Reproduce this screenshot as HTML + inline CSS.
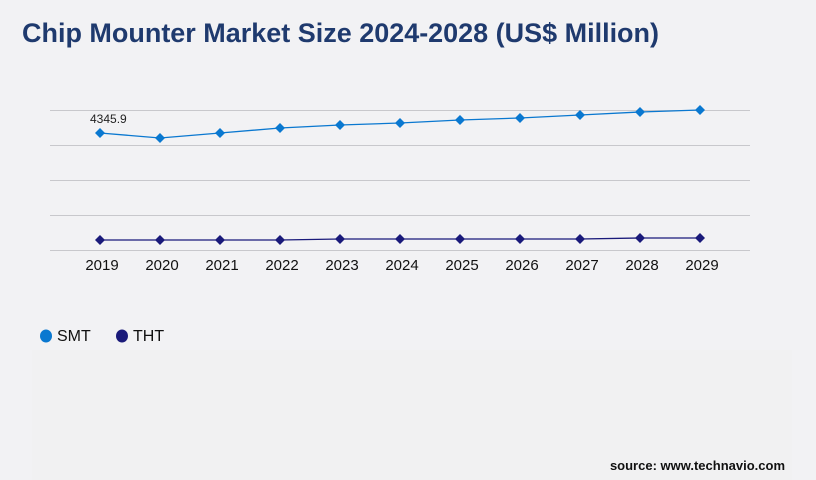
<!DOCTYPE html>
<html><head><meta charset="utf-8"><style>
body{margin:0;background:#f2f2f4;}
svg{display:block;font-family:"Liberation Sans",sans-serif;}
</style></head><body>
<svg width="816" height="480" viewBox="0 0 816 480">
<rect width="816" height="480" fill="#f2f2f4"/>
<rect x="32" y="350" width="760" height="130" fill="#f1f1f2"/>
<text x="22" y="42" font-size="27" font-weight="bold" fill="#1f3a6e" textLength="637" lengthAdjust="spacingAndGlyphs">Chip Mounter Market Size 2024-2028 (US$ Million)</text>
<g stroke="#c8c8cc" stroke-width="1">
<line x1="50" y1="110.5" x2="750" y2="110.5"/><line x1="50" y1="145.5" x2="750" y2="145.5"/>
<line x1="50" y1="180.5" x2="750" y2="180.5"/><line x1="50" y1="215.5" x2="750" y2="215.5"/>
<line x1="50" y1="250.5" x2="750" y2="250.5"/>
</g>
<polyline fill="none" stroke="#0a78d0" stroke-width="1.3" points="100,133 160,138 220,133 280,128 340,125 400,123 460,120 520,118 580,115 640,112 700,110"/>
<polyline fill="none" stroke="#1a1a7a" stroke-width="1.3" points="100,240 160,240 220,240 280,240 340,239 400,239 460,239 520,239 580,239 640,238 700,238"/>
<g fill="#0a78d0">
<path d="M100 128l5 5-5 5-5-5z"/><path d="M160 133l5 5-5 5-5-5z"/><path d="M220 128l5 5-5 5-5-5z"/><path d="M280 123l5 5-5 5-5-5z"/><path d="M340 120l5 5-5 5-5-5z"/><path d="M400 118l5 5-5 5-5-5z"/><path d="M460 115l5 5-5 5-5-5z"/><path d="M520 113l5 5-5 5-5-5z"/><path d="M580 110l5 5-5 5-5-5z"/><path d="M640 107l5 5-5 5-5-5z"/><path d="M700 105l5 5-5 5-5-5z"/>
</g>
<g fill="#1a1a7a">
<path d="M100 235l5 5-5 5-5-5z"/><path d="M160 235l5 5-5 5-5-5z"/><path d="M220 235l5 5-5 5-5-5z"/><path d="M280 235l5 5-5 5-5-5z"/><path d="M340 234l5 5-5 5-5-5z"/><path d="M400 234l5 5-5 5-5-5z"/><path d="M460 234l5 5-5 5-5-5z"/><path d="M520 234l5 5-5 5-5-5z"/><path d="M580 234l5 5-5 5-5-5z"/><path d="M640 233l5 5-5 5-5-5z"/><path d="M700 233l5 5-5 5-5-5z"/>
</g>
<text x="90" y="123" font-size="12" fill="#222">4345.9</text>
<g font-size="15" fill="#111" text-anchor="middle">
<text x="102" y="270">2019</text><text x="162" y="270">2020</text><text x="222" y="270">2021</text><text x="282" y="270">2022</text><text x="342" y="270">2023</text><text x="402" y="270">2024</text><text x="462" y="270">2025</text><text x="522" y="270">2026</text><text x="582" y="270">2027</text><text x="642" y="270">2028</text><text x="702" y="270">2029</text>
</g>
<ellipse cx="46" cy="336" rx="6" ry="6.5" fill="#0a78d0"/>
<text x="57" y="341" font-size="16" fill="#111">SMT</text>
<ellipse cx="122" cy="336" rx="6" ry="6.5" fill="#1a1a7a"/>
<text x="133" y="341" font-size="16" fill="#111">THT</text>
<text x="785" y="470" font-size="13" font-weight="bold" fill="#111" text-anchor="end">source: www.technavio.com</text>
</svg>
</body></html>
